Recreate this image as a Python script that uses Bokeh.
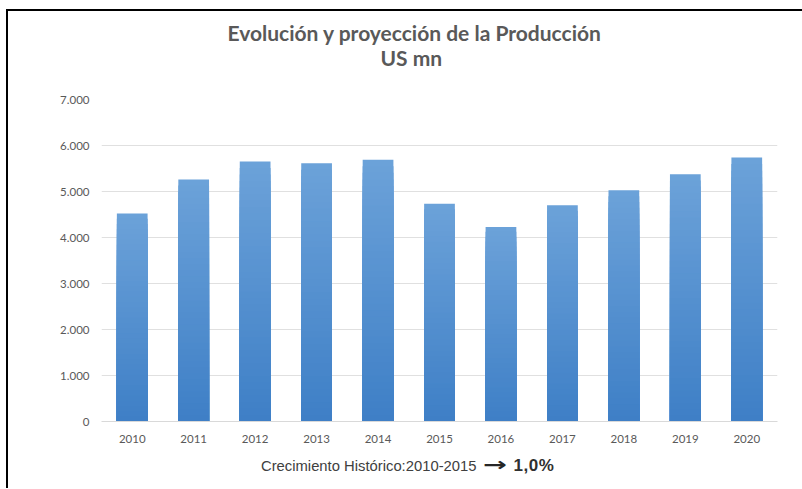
from bokeh.plotting import figure
from bokeh.models import FixedTicker, Range1d, Title, Div
from bokeh.layouts import column
from bokeh.embed import file_html
from bokeh.resources import INLINE

years = ["2010", "2011", "2012", "2013", "2014", "2015", "2016", "2017", "2018", "2019", "2020"]
production = [4520, 5260, 5650, 5615, 5690, 4735, 4230, 4700, 5025, 5375, 5740]
y_ticks = [0, 1000, 2000, 3000, 4000, 5000, 6000, 7000]
y_tick_labels = ["0", "1.000", "2.000", "3.000", "4.000", "5.000", "6.000", "7.000"]
title_line1 = "Evolución y proyección de la Producción"
title_line2 = "US mn"
note_text = "Crecimiento Histórico:2010-2015"
note_arrow = "→"
note_value = "1,0%"

W = 794
p = figure(x_range=years, y_range=Range1d(0, 7000), width=W, height=446,
           output_backend="svg", toolbar_location=None, title=None,
           min_border_left=93, min_border_right=25, min_border_top=88, min_border_bottom=36)
p.outline_line_color = None
p.background_fill_color = "white"
p.border_fill_color = "white"

# gradient bars: overlapping slices, light at top, dark at bottom
N = 40
dark = (0x3e, 0x7f, 0xc6)
light = (0x6c, 0xa2, 0xd9)
for k in range(N - 1, -1, -1):
    t = (k + 0.5) / N
    c = tuple(int(round(dark[i] + (light[i] - dark[i]) * t)) for i in range(3))
    col = "#%02x%02x%02x" % c
    p.vbar(x=years, width=0.5, bottom=0,
           top=[v * (k + 1) / N for v in production],
           fill_color=col, line_color=None)

p.yaxis.ticker = FixedTicker(ticks=y_ticks)
p.yaxis.major_label_overrides = {t: l for t, l in zip(y_ticks, y_tick_labels)}
for ax in (p.xaxis, p.yaxis):
    ax.major_tick_line_color = None
    ax.minor_tick_line_color = None
    ax.major_tick_out = 0
    ax.major_tick_in = 0
    ax.minor_tick_out = 0
    ax.major_label_text_font = "Lato"
    ax.major_label_text_font_size = "11.5px"
    ax.major_label_text_color = "#595959"
p.yaxis.axis_line_color = None
p.yaxis.major_label_standoff = 12
p.xaxis.axis_line_color = "#d9d9d9"
p.xaxis.major_label_standoff = 13
p.xgrid.grid_line_color = None
p.ygrid.grid_line_color = "#e0e0e0"
p.ygrid.grid_line_width = 1

p.add_layout(Title(text=title_line2, align="left", offset=279, standoff=60,
                   text_font="Lato", text_font_style="bold", text_font_size="21px",
                   text_color="#595959"), "above")
p.add_layout(Title(text=title_line1, align="left", offset=126, standoff=-65,
                   text_font="Lato", text_font_style="bold", text_font_size="21px",
                   text_color="#595959"), "above")

note_html = ('<div style="position:relative; top:-3px; padding-left:253px; line-height:20px; '
             'font-family:\'Liberation Sans\'; font-size:14.8px; color:#404040; white-space:nowrap;">'
             + note_text
             + '<span style="display:inline-block; transform:scaleX(1.5); font-family:\'DejaVu Sans\'; '
               'font-weight:bold; font-size:19px; color:#262626; margin-left:11px; margin-right:10px;">'
             + note_arrow + '</span>'
             + '<b style="font-size:17px; letter-spacing:0.6px; color:#303030">' + note_value + '</b></div>')
note = Div(text=note_html, width=W, height=31, margin=(0, 0, 0, 0))

layout = column(p, note)
layout.styles = {"margin-left": "6px", "margin-top": "9px",
                 "border-style": "solid none none solid",
                 "border-width": "2px 0px 0px 2px",
                 "border-color": "black white white black",
                 "box-shadow": "none", "outline": "none",
                 "overflow": "hidden"}

open("out.html", "w").write(file_html(layout, INLINE))
